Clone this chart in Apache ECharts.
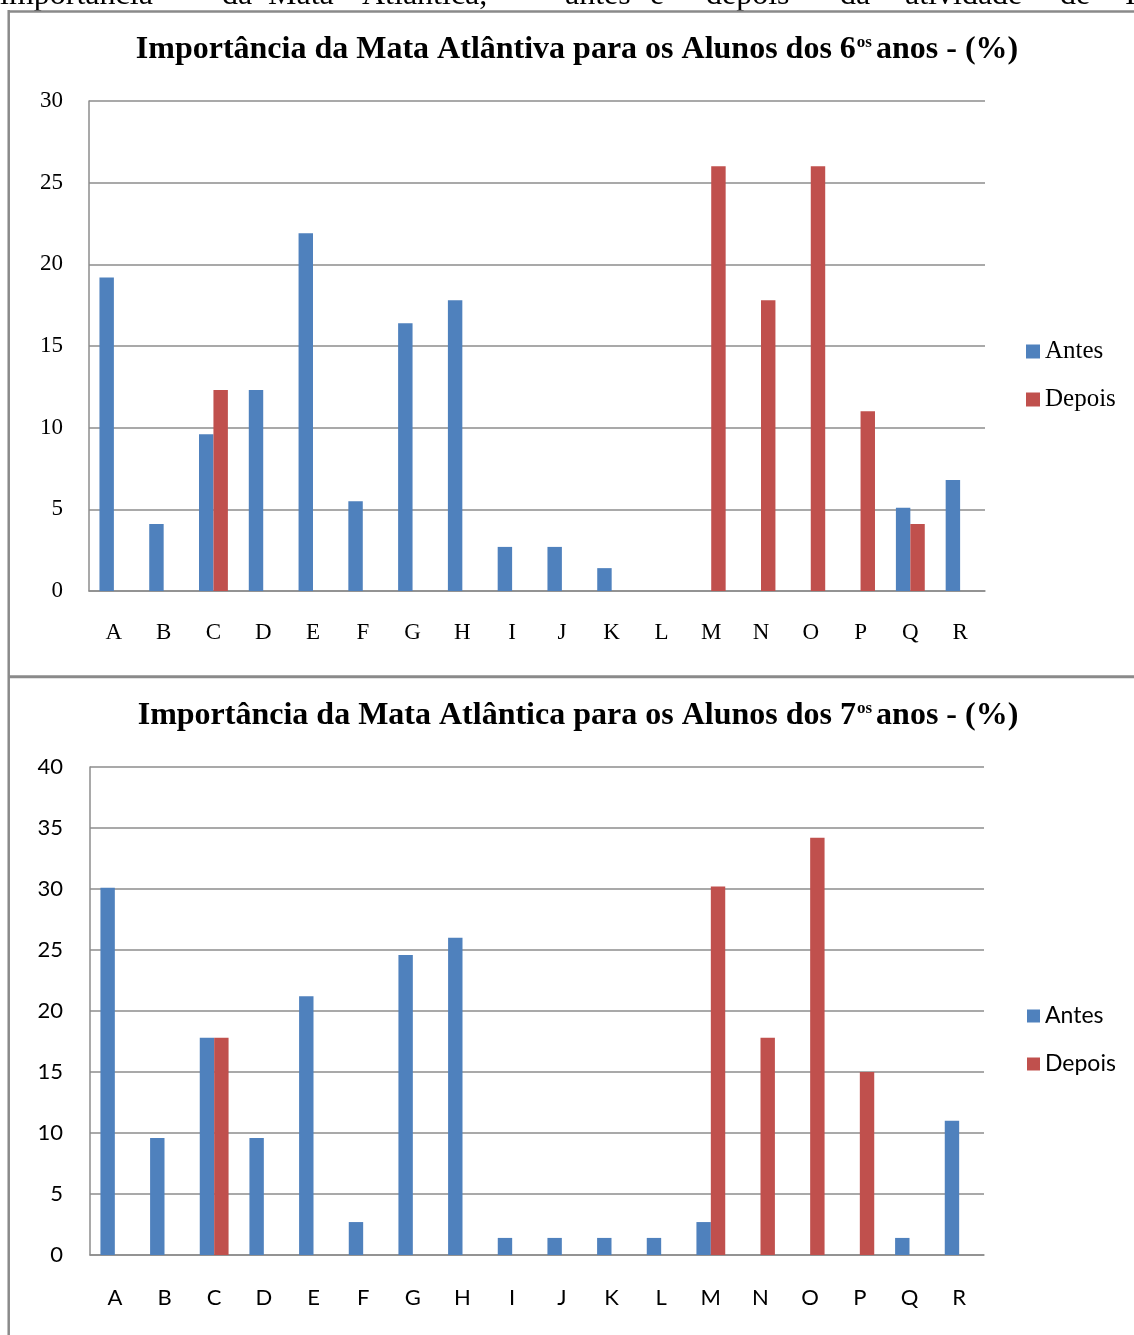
<!DOCTYPE html>
<html>
<head>
<meta charset="utf-8">
<script src="https://cdn.jsdelivr.net/npm/echarts@6/dist/echarts.min.js"></script>
<style>
html,body{margin:0;padding:0;background:#fff;}
#chart{width:1134px;height:1335px;}
</style>
</head>
<body>
<div id="chart"></div>
<script>
// ---- data ----
const categories = ['A','B','C','D','E','F','G','H','I','J','K','L','M','N','O','P','Q','R'];
const seriesNames = ['Antes','Depois'];
// 6º anos (%)
const antes6  = [19.2, 4.1, 9.6, 12.3, 21.9, 5.5, 16.4, 17.8, 2.7, 2.7, 1.4, 0, 0, 0, 0, 0, 5.1, 6.8];
const depois6 = [0, 0, 12.3, 0, 0, 0, 0, 0, 0, 0, 0, 0, 26.0, 17.8, 26.0, 11.0, 4.1, 0];
// 7º anos (%)
const antes7  = [30.1, 9.6, 17.8, 9.6, 21.2, 2.7, 24.6, 26.0, 1.4, 1.4, 1.4, 1.4, 2.7, 0, 0, 0, 1.4, 11.0];
const depois7 = [0, 0, 17.8, 0, 0, 0, 0, 0, 0, 0, 0, 0, 30.2, 17.8, 34.2, 15.0, 0, 0];
const yMax6 = 30, yMax7 = 40, yStep = 5;
const title6 = ['Importância da Mata Atlântiva para os Alunos dos 6', 'os', 'anos - (%)'];
const title7 = ['Importância da Mata Atlântica para os Alunos dos 7', 'os', 'anos - (%)'];
const topLine = ['importância','da','Mata','Atlântica,','antes','e','depois','da','atividade','de','I'];

// ---- styles ----
const BLUE = '#4F81BD', RED = '#C0504D', GRID = '#8c8c8c', FRAME = '#8a8a8a';
const SERIF = '"Liberation Serif","Times New Roman",serif';
const SANS = 'Lato,"Liberation Sans",sans-serif';

const chart = echarts.init(document.getElementById('chart'), null, {renderer:'canvas'});

function xAxisCfg(gi, fam, size, margin){
  return {type:'category', gridIndex:gi, data:categories,
    axisLine:{show:true, lineStyle:{color:GRID, width:1.5}},
    axisTick:{show:false},
    axisLabel:{color:'#000', fontFamily:fam, fontSize:size, margin:margin, interval:0},
    splitLine:{show:false}};
}
function yAxisCfg(gi, max, fam, size, margin){
  return {type:'value', gridIndex:gi, min:0, max:max, interval:yStep,
    axisLine:{show:true, lineStyle:{color:GRID, width:1.5}},
    axisTick:{show:false},
    axisLabel:{color:'#000', fontFamily:fam, fontSize:size, margin:margin},
    splitLine:{show:true, lineStyle:{color:GRID, width:1.5}}};
}
function barSeries(name, data, gi, color){
  return {type:'bar', name:name, data:data, xAxisIndex:gi, yAxisIndex:gi,
    barGap:'0%', barCategoryGap:'42%',
    itemStyle:{color:color, borderWidth:0},
    emphasis:{disabled:true}, animation:false};
}
function titleText(parts, x, y){
  return {type:'text', x:x, y:y, silent:true,
    style:{text:'{a|'+parts[0]+'}{s|'+parts[1]+'}{a|'+parts[2]+'}',
      textAlign:'center', textVerticalAlign:'middle', align:'center', verticalAlign:'middle',
      rich:{a:{font:'bold 32px '+SERIF, fill:'#000', verticalAlign:'bottom'},
            s:{font:'bold 17px '+SERIF, fill:'#000', verticalAlign:'top', padding:[0,4,12,1]}}}};
}

const topLineX = [0, 222, 268, 362, 565, 650, 706, 840, 905, 1060, 1125];
const graphics = [];
topLine.forEach((w,i)=>{
  graphics.push({type:'text', x:topLineX[i], y:12, silent:true,
    style:{text:w, font:'32px '+SERIF, fill:'#000', textAlign:'left', textVerticalAlign:'bottom', verticalAlign:'bottom'}});
});
graphics.push(
  {type:'line', silent:true, shape:{x1:8, y1:11.5, x2:1134, y2:11.5}, style:{stroke:FRAME, lineWidth:2.5}},
  {type:'line', silent:true, shape:{x1:8.7, y1:10, x2:8.7, y2:677}, style:{stroke:FRAME, lineWidth:2.5}},
  {type:'line', silent:true, shape:{x1:8, y1:676.7, x2:1134, y2:676.7}, style:{stroke:FRAME, lineWidth:3}},
  {type:'line', silent:true, shape:{x1:8.7, y1:677, x2:8.7, y2:1335}, style:{stroke:FRAME, lineWidth:2.5}},
  titleText(title6, 577, 50),
  titleText(title7, 578, 716)
);

const option = {
  backgroundColor:'#fff',
  animation:false,
  grid:[
    {left:89, top:101, width:896, height:490},
    {left:90, top:767, width:894, height:488}
  ],
  xAxis:[ xAxisCfg(0, SERIF, 23, 30), xAxisCfg(1, SANS, 22, 32) ],
  yAxis:[ yAxisCfg(0, yMax6, SERIF, 23, 26), yAxisCfg(1, yMax7, SANS, 22, 27) ],
  legend:[
    {orient:'vertical', left:1026, top:339, padding:0, icon:'rect', itemWidth:14, itemHeight:14, itemGap:23,
     data:seriesNames, selectedMode:false,
     textStyle:{color:'#000', fontFamily:SERIF, fontSize:25, lineHeight:24}},
    {orient:'vertical', left:1027, top:1004, padding:0, icon:'rect', itemWidth:13, itemHeight:13, itemGap:24,
     data:seriesNames, selectedMode:false,
     textStyle:{color:'#000', fontFamily:SANS, fontSize:23, lineHeight:24}}
  ],
  series:[
    barSeries(seriesNames[0], antes6, 0, BLUE),
    barSeries(seriesNames[1], depois6, 0, RED),
    barSeries(seriesNames[0], antes7, 1, BLUE),
    barSeries(seriesNames[1], depois7, 1, RED)
  ],
  graphic:graphics
};
chart.setOption(option);
</script>
</body>
</html>
